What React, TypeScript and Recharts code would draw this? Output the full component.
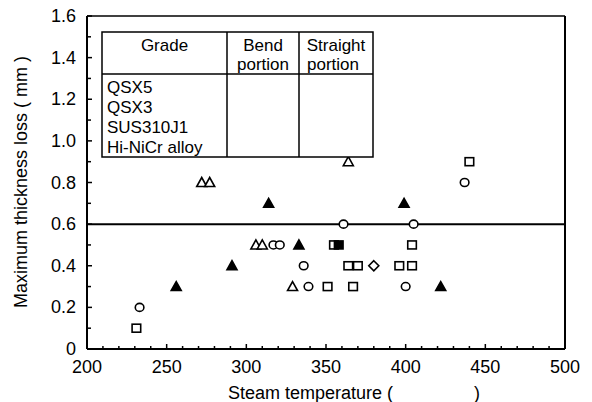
import { ScatterChart, Scatter, XAxis, YAxis, ReferenceLine } from "recharts";

const FONT = "'Liberation Sans', Arial, sans-serif";

// axis ticks (minor + major)
const xTicks = [200, 210, 220, 230, 240, 250, 260, 270, 280, 290, 300, 310, 320, 330, 340, 350, 360, 370, 380, 390, 400, 410, 420, 430, 440, 450, 460, 470, 480, 490, 500];
const xLabels = [200, 250, 300, 350, 400, 450, 500];
const yTicks = [0, 0.1, 0.2, 0.3, 0.4, 0.5, 0.6, 0.7, 0.8, 0.9, 1.0, 1.1, 1.2, 1.3, 1.4, 1.5, 1.6];
const yLabels = ["0", "0.2", "0.4", "0.6", "0.8", "1.0", "1.2", "1.4", "1.6"];

// measured points: steam temperature vs max thickness loss
const openCircles = [
  { temp: 233, loss: 0.2 },
  { temp: 317, loss: 0.5 },
  { temp: 321, loss: 0.5 },
  { temp: 336, loss: 0.4 },
  { temp: 339, loss: 0.3 },
  { temp: 361, loss: 0.6 },
  { temp: 405, loss: 0.6 },
  { temp: 400, loss: 0.3 },
  { temp: 437, loss: 0.8 },
];
const openTriangles = [
  { temp: 272, loss: 0.8 },
  { temp: 277, loss: 0.8 },
  { temp: 306, loss: 0.5 },
  { temp: 310, loss: 0.5 },
  { temp: 329, loss: 0.3 },
  { temp: 364, loss: 0.9 },
];
const filledTriangles = [
  { temp: 256, loss: 0.3 },
  { temp: 291, loss: 0.4 },
  { temp: 314, loss: 0.7 },
  { temp: 333, loss: 0.5 },
  { temp: 399, loss: 0.7 },
  { temp: 422, loss: 0.3 },
];
const openSquares = [
  { temp: 231, loss: 0.1 },
  { temp: 351, loss: 0.3 },
  { temp: 367, loss: 0.3 },
  { temp: 355, loss: 0.5 },
  { temp: 404, loss: 0.5 },
  { temp: 364, loss: 0.4 },
  { temp: 370, loss: 0.4 },
  { temp: 396, loss: 0.4 },
  { temp: 404, loss: 0.4 },
  { temp: 440, loss: 0.9 },
];
const filledSquares = [{ temp: 358, loss: 0.5 }];
const openDiamonds = [{ temp: 380, loss: 0.4 }];

const limitLoss = 0.6;

const gradeRows = ["QSX5", "QSX3", "SUS310J1", "Hi-NiCr alloy"];

type Kind = "circle" | "triangle" | "square" | "diamond";

const marker = (kind: Kind, filled: boolean) => (props: any) => {
  const { cx, cy } = props;
  const fill = filled ? "#000" : "#fff";
  const common = { fill, stroke: "#000", strokeWidth: 1.6 };
  if (kind === "circle") return <ellipse cx={cx} cy={cy} rx={4.3} ry={4} {...common} />;
  if (kind === "square") return <rect x={cx - 4.3} y={cy - 4} width={8.6} height={8} {...common} />;
  if (kind === "diamond")
    return <polygon points={`${cx},${cy - 5} ${cx + 5},${cy} ${cx},${cy + 5} ${cx - 5},${cy}`} {...common} />;
  return <polygon points={`${cx},${cy - 5} ${cx + 5},${cy + 4} ${cx - 5},${cy + 4}`} {...common} />;
};

function XTick(props: any) {
  const { x, y, payload } = props;
  const major = xLabels.includes(payload.value);
  return (
    <g>
      <line x1={x} x2={x} y1={y} y2={y - (major ? 5 : 3)} stroke="#000" strokeWidth={1.5} />
      {major && (
        <text x={x} y={y + 24} textAnchor="middle" fontSize={18} fontFamily={FONT} fill="#000">
          {payload.value}
        </text>
      )}
    </g>
  );
}

function YTick(props: any) {
  const { x, y, payload } = props;
  const v = Number(payload.value);
  const label = v === 0 ? "0" : v.toFixed(1);
  const major = yLabels.includes(label);
  return (
    <g>
      <line x1={x} x2={x + (major ? 5 : 4)} y1={y} y2={y} stroke="#000" strokeWidth={1.5} />
      {major && (
        <text x={x - 11} y={y + 6} textAnchor="end" fontSize={18} fontFamily={FONT} fill="#000">
          {label}
        </text>
      )}
    </g>
  );
}

export default function App() {
  const tbl = { left: 102, top: 32, right: 373, bottom: 157, head: 74, c1: 227, c2: 299 };
  return (
    <div style={{ position: "absolute", left: 0, top: 0, width: 592, height: 402, background: "#fff", fontFamily: FONT }}>
      <ScatterChart width={592} height={402} margin={{ top: 16, right: 27, bottom: 0, left: 0 }}>
        <XAxis
          type="number"
          dataKey="temp"
          domain={[200, 500]}
          ticks={xTicks}
          interval={0}
          height={53}
          tickSize={0}
          tickMargin={0}
          tick={<XTick />}
          axisLine={{ stroke: "#000", strokeWidth: 2 }}
          tickLine={false}
        />
        <YAxis
          type="number"
          dataKey="loss"
          domain={[0, 1.6]}
          ticks={yTicks}
          interval={0}
          width={87}
          tickSize={0}
          tickMargin={0}
          tick={<YTick />}
          axisLine={{ stroke: "#000", strokeWidth: 2 }}
          tickLine={false}
        />
        <ReferenceLine y={1.6} stroke="#000" strokeWidth={1.5} />
        <ReferenceLine x={500} stroke="#000" strokeWidth={2} />
        <ReferenceLine y={limitLoss} stroke="#000" strokeWidth={2} />
        <Scatter name="circle" data={openCircles} shape={marker("circle", false)} isAnimationActive={false} />
        <Scatter name="triangle" data={openTriangles} shape={marker("triangle", false)} isAnimationActive={false} />
        <Scatter name="triangle filled" data={filledTriangles} shape={marker("triangle", true)} isAnimationActive={false} />
        <Scatter name="square" data={openSquares} shape={marker("square", false)} isAnimationActive={false} />
        <Scatter name="square filled" data={filledSquares} shape={marker("square", true)} isAnimationActive={false} />
        <Scatter name="diamond" data={openDiamonds} shape={marker("diamond", false)} isAnimationActive={false} />
      </ScatterChart>
      <svg width={592} height={402} style={{ position: "absolute", left: 0, top: 0, pointerEvents: "none" }}>
        <g stroke="#000" strokeWidth={1.5} fill="none">
          <rect x={tbl.left} y={tbl.top} width={tbl.right - tbl.left} height={tbl.bottom - tbl.top} fill="#fff" />
          <line x1={tbl.c1} x2={tbl.c1} y1={tbl.top} y2={tbl.bottom} />
          <line x1={tbl.c2} x2={tbl.c2} y1={tbl.top} y2={tbl.bottom} />
          <line x1={tbl.left} x2={tbl.right} y1={tbl.head} y2={tbl.head} />
        </g>
        <g fontSize={17} fontFamily={FONT} fill="#000">
          <text x={(tbl.left + tbl.c1) / 2} y={51} textAnchor="middle">Grade</text>
          <text x={(tbl.c1 + tbl.c2) / 2} y={51} textAnchor="middle">Bend</text>
          <text x={(tbl.c1 + tbl.c2) / 2} y={70} textAnchor="middle">portion</text>
          <text x={(tbl.c2 + tbl.right) / 2} y={51} textAnchor="middle">Straight</text>
          <text x={(tbl.c2 + tbl.right) / 2 - 3} y={70} textAnchor="middle">portion</text>
          {gradeRows.map((g, i) => (
            <text key={g} x={107} y={93 + i * 20}>{g}</text>
          ))}
        </g>
        <text
          transform="translate(27 182) rotate(-90)"
          textAnchor="middle"
          fontSize={18}
          fontFamily={FONT}
          fill="#000"
        >
          Maximum thickness loss ( mm )
        </text>
        <text y={399} fontSize={18} fontFamily={FONT} fill="#000">
          <tspan x={228}>Steam temperature (</tspan>
          <tspan x={474}>)</tspan>
        </text>
      </svg>
    </div>
  );
}
